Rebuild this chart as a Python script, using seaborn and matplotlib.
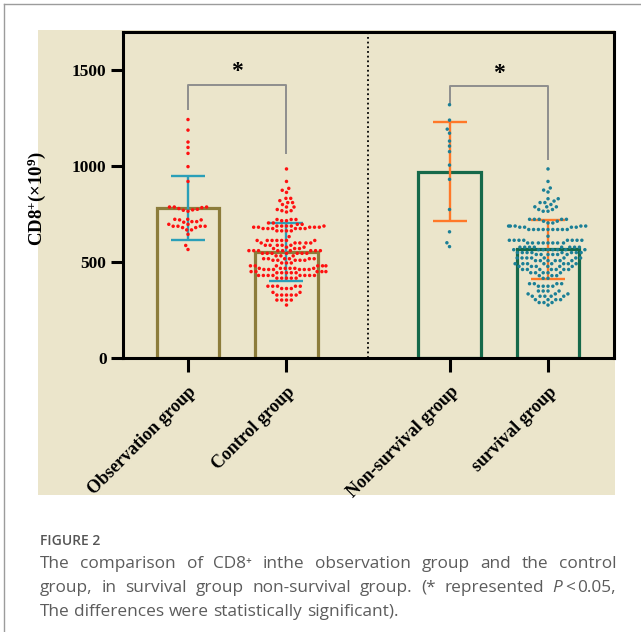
import numpy as np
import pandas as pd
import matplotlib
matplotlib.use("Agg")
import matplotlib.pyplot as plt
import seaborn as sns
from matplotlib.patches import Rectangle
from matplotlib.lines import Line2D

# ---------------- data ----------------
groups = ["Observation group", "Control group", "Non-survival group", "survival group"]
cohort = ["diagnosis", "diagnosis", "outcome", "outcome"]

bar_mean = [781, 552, 971, 566]
bar_sd = [167, 152, 258, 152]

observation_vals = [1242, 1187, 1125, 1097, 1066, 997, 920,
                    787, 787, 784, 779, 775, 772, 770, 765, 787,
                    723, 723, 720, 720, 711, 711, 708, 697, 697,
                    687, 687, 687, 687, 680, 680, 668, 668, 645, 587, 566]

control_levels = [985, 920, 884, 874, 863, 832, 820, 810, 800, 787, 774, 768, 761,
                  722, 716, 704, 697, 688, 682, 675, 663, 633, 613, 600, 588, 578,
                  571, 560, 546, 533, 518, 510, 496, 481, 468, 462, 451, 445, 431,
                  417, 375, 363, 343, 329, 303, 277]
control_counts = [1, 1, 1, 1, 1, 2, 1, 2, 1, 2, 1, 2, 1,
                  3, 2, 2, 2, 5, 5, 6, 4, 1, 7, 5, 5, 2,
                  3, 9, 7, 3, 6, 5, 3, 6, 6, 6, 5, 5, 8,
                  5, 5, 3, 2, 5, 4, 1]

nonsurvival_vals = [1319, 1239, 1192, 1171, 1130, 1104, 1075, 1005, 931,
                    774, 658, 601, 581]

survival_levels = [985, 920, 886, 875, 865, 830, 818, 810, 800, 788, 774, 765,
                   723, 713, 704, 688, 682, 670, 635, 614, 600, 578, 565, 550,
                   540, 522, 508, 492, 478, 462, 445, 430, 416, 388, 375, 350,
                   335, 323, 305, 290, 277]
survival_counts = [1, 1, 1, 1, 1, 2, 1, 2, 1, 3, 2, 2,
                   5, 2, 2, 5, 4, 9, 1, 8, 8, 8, 8, 8,
                   6, 8, 6, 8, 6, 7, 5, 3, 2, 4, 4, 4,
                   3, 5, 4, 3, 1]

y_ticks = [0, 500, 1000, 1500]

# significance brackets: (left end, top, right end) for each pair
bracket_left_end = [1294, 1319]
bracket_top = [1423, 1415]
bracket_right_end = [1062, 1030]
star_level = [1492, 1484]

caption_title = "FIGURE 2"
caption_line1 = "The comparison of CD8\u207a inthe observation group and the control"
caption_line2 = "group, in survival group non-survival group. (* represented"
caption_line3 = "The differences were statistically significant)."

# ---------------- style ----------------
BEIGE = "#EBE5CB"
OLIVE = "#8C7C3B"
GREEN = "#15694A"
RED = "#FF1010"
TEAL = "#1B7F96"
CYAN = "#2A9FB8"
ORANGE = "#FF7828"
GRAY = "#8E8E8E"

plt.rcParams["font.family"] = ["Liberation Serif", "DejaVu Serif"]
plt.rcParams["mathtext.fontset"] = "custom"
plt.rcParams["mathtext.rm"] = "Liberation Serif:bold"
plt.rcParams["mathtext.bf"] = "Liberation Serif:bold"
plt.rcParams["mathtext.it"] = "Liberation Serif:italic:bold"

positions = [0.0, 1.0, 2.655, 3.655]
W, H = 641, 632


def fx(px):
    return px / W


def fy(py):
    return 1 - py / H


fig = plt.figure(figsize=(W / 100, H / 100), dpi=100)
fig.patch.set_facecolor("white")

# panel background behind the chart
fig.add_artist(Rectangle((fx(38), fy(495)), fx(615) - fx(38), fy(30) - fy(495),
                         transform=fig.transFigure, facecolor=BEIGE,
                         edgecolor="none", zorder=0))
# thin frame lines at the top and left of the figure
fig.add_artist(Line2D([fx(3.5), 1], [fy(3.5), fy(3.5)], transform=fig.transFigure,
                      color="#9c9c9c", lw=1.0))
fig.add_artist(Line2D([fx(3.5), fx(3.5)], [fy(3.5), 0], transform=fig.transFigure,
                      color="#9c9c9c", lw=1.0))

ax = fig.add_axes([fx(122.5), fy(358.3), fx(614) - fx(122.5), fy(31.5) - fy(358.3)])
ax.set_facecolor(BEIGE)

# ---------------- bars ----------------
bar_df = pd.DataFrame({"pos": positions, "mean": bar_mean, "cohort": cohort})
sns.barplot(data=bar_df, x="pos", y="mean", hue="cohort",
            palette={"diagnosis": OLIVE, "outcome": GREEN},
            native_scale=True, width=0.63, fill=False, linewidth=2.3,
            errorbar=None, legend=False, ax=ax)

# ---------------- error bars (mean ± SD) ----------------
err_colors = {"diagnosis": CYAN, "outcome": ORANGE}
for c in ["diagnosis", "outcome"]:
    idx = [i for i, k in enumerate(cohort) if k == c]
    ax.errorbar([positions[i] for i in idx], [bar_mean[i] for i in idx],
                yerr=[bar_sd[i] for i in idx], fmt="none", ecolor=err_colors[c],
                elinewidth=1.7, capsize=11.9, capthick=1.7, zorder=3)

# ---------------- individual points ----------------
control_vals = np.repeat(control_levels, control_counts)
survival_vals = np.repeat(survival_levels, survival_counts)
samples = [observation_vals, control_vals, nonsurvival_vals, survival_vals]
swarm_df = pd.DataFrame({
    "pos": np.concatenate([np.full(len(s), p) for s, p in zip(samples, positions)]),
    "value": np.concatenate([np.asarray(s, dtype=float) for s in samples]),
    "cohort": np.concatenate([[c] * len(s) for s, c in zip(samples, cohort)]),
})

ax.set_xlim(-0.665, 4.325)
ax.set_ylim(0, 1700)

sns.swarmplot(data=swarm_df, x="pos", y="value", hue="cohort",
              palette={"diagnosis": RED, "outcome": TEAL},
              native_scale=True, size=2.5, linewidth=0.8, edgecolor="none",
              legend=False, ax=ax, zorder=4, warn_thresh=1.0)

# ---------------- separators and significance marks ----------------
ax.axvline(1.827, color="black", lw=1.3, ls=(0, (1, 1.6)), zorder=2)

pairs = [(positions[0], positions[1]), (positions[2], positions[3])]
for (xa, xb), le, top, re, st in zip(pairs, bracket_left_end, bracket_top,
                                     bracket_right_end, star_level):
    ax.plot([xa, xa, xb, xb], [le, top, top, re], color=GRAY, lw=1.4,
            solid_capstyle="butt", zorder=3)
    ax.text((xa + xb) / 2, st, "*", ha="center", va="center",
            fontsize=17, fontweight="bold", family="Liberation Serif")

# ---------------- axes styling ----------------
ax.set_xticks(positions)
ax.set_xticklabels(groups, rotation=45, ha="right", va="top",
                   rotation_mode="anchor", fontsize=13, fontweight="bold")
ax.set_yticks(y_ticks)
ax.set_yticklabels([str(v) for v in y_ticks], fontsize=12.5, fontweight="bold")
ax.tick_params(axis="y", length=8.5, width=2.2, pad=3, color="black")
ax.tick_params(axis="x", length=10, width=2.2, pad=8, color="black")
for sp in ax.spines.values():
    sp.set_linewidth(2.2)
    sp.set_color("black")
ax.set_xlabel("")
ax.set_ylabel(r"$\mathrm{CD8}^{+}(\times10^{9})$", fontsize=13.5)
ax.yaxis.set_label_coords(-0.151, 0.49)

# ---------------- caption ----------------
CAP_COLOR = "#5c5c5c"
cap_font = ["Open Sans", "DejaVu Sans"]
renderer = fig.canvas.get_renderer()


def measure(txt, size, **kw):
    t = fig.text(0, 0, txt, fontsize=size, family=cap_font, **kw)
    w = t.get_window_extent(renderer).width
    t.remove()
    return w


# body size chosen so the unjustified last line runs 40 px -> 398 px
CAP_SIZE = 11.0 * 358 / measure(caption_line3, 11.0)
PIECE_GAP = 2.5
space_w = measure("n n", CAP_SIZE) - measure("nn", CAP_SIZE)


def caption_line(words, baseline, x0=40, x1=616, justify=True):
    widths = [sum(measure(t, CAP_SIZE, **kw) for t, kw in w) + PIECE_GAP * (len(w) - 1)
              for w in words]
    gap = (x1 - x0 - sum(widths)) / (len(words) - 1) if justify else space_w
    x = x0
    for w, wd in zip(words, widths):
        xx = x
        for t, kw in w:
            fig.text(fx(xx), fy(baseline), t, fontsize=CAP_SIZE, family=cap_font,
                     color=CAP_COLOR, va="baseline", ha="left", **kw)
            xx += measure(t, CAP_SIZE, **kw) + PIECE_GAP
        x += wd + gap


def plain(line):
    return [[(w, {})] for w in line.split()]


fig.text(fx(40), fy(545), caption_title, fontsize=10, family=cap_font,
         color="#555555", fontweight="semibold", va="baseline", ha="left")
caption_line(plain(caption_line1), 567.5)
caption_line(plain(caption_line2) + [[("P", {"style": "italic"}), ("<", {}), ("0.05,", {})]],
             591.5)
caption_line(plain(caption_line3), 615.5, justify=False)

fig.savefig("out.png", dpi=100, facecolor="white")
